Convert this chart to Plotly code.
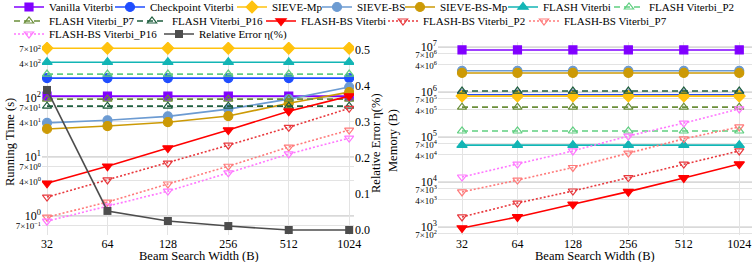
import plotly.graph_objects as go

W, H = 753, 262

beam_widths = ["32", "64", "128", "256", "512", "1024"]

# Running time (s), left panel
time_vanilla = [108, 108, 108, 108, 108, 108]
time_checkpoint = [218, 218, 218, 218, 218, 218]
time_sieve_mp = [700, 700, 700, 700, 700, 700]
time_sieve_bs = [38, 42, 49, 65, 96, 154]
time_sieve_bs_mp = [30, 33.6, 39, 49.6, 82, 126]
time_flash = [405, 405, 405, 405, 405, 405]
time_flash_p2 = [255, 255, 255, 255, 255, 255]
time_flash_p7 = [96, 96, 96, 96, 96, 96]
time_flash_p16 = [73, 73, 73, 73, 73, 73]
time_flashbs = [3.6, 7.0, 14.2, 28.7, 60, 108]
time_flashbs_p2 = [2.1, 4.1, 7.9, 15.9, 32, 67]
time_flashbs_p7 = [0.96, 1.73, 3.5, 7.0, 14.8, 28.7]
time_flashbs_p16 = [0.82, 1.48, 2.65, 5.4, 11.3, 21]
rel_error = [0.389, 0.053, 0.025, 0.011, 0.0, 0.0]

# Memory (B), right panel
mem_vanilla = [8.6e6, 8.6e6, 8.6e6, 8.6e6, 8.6e6, 8.6e6]
mem_checkpoint = [8.7e5, 8.7e5, 8.7e5, 8.7e5, 8.7e5, 8.7e5]
mem_sieve_mp = [8.1e5, 8.1e5, 8.1e5, 8.1e5, 8.1e5, 8.1e5]
mem_sieve_bs = [2.96e6, 2.96e6, 2.96e6, 2.96e6, 2.96e6, 2.96e6]
mem_sieve_bs_mp = [2.65e6, 2.65e6, 2.65e6, 2.65e6, 2.65e6, 2.65e6]
mem_flash = [6.6e4, 6.6e4, 6.6e4, 6.6e4, 6.6e4, 6.6e4]
mem_flash_p2 = [1.36e5, 1.36e5, 1.36e5, 1.36e5, 1.36e5, 1.36e5]
mem_flash_p7 = [4.6e5, 4.6e5, 4.6e5, 4.6e5, 4.6e5, 4.6e5]
mem_flash_p16 = [1.05e6, 1.05e6, 1.05e6, 1.05e6, 1.05e6, 1.05e6]
mem_flashbs = [950, 1670, 3200, 6100, 12300, 25000]
mem_flashbs_p2 = [1670, 3400, 6300, 12500, 25000, 49000]
mem_flashbs_p7 = [6000, 11000, 21000, 44000, 91000, 167000]
mem_flashbs_p16 = [12900, 25000, 49000, 105000, 204000, 420000]

left_ticks = [0.7, 1, 4, 7, 10, 40, 70, 100, 400, 700]
left_ticktext_exp = [-1, 0, 0, 0, 1, 1, 1, 2, 2, 2]
left_ticktext_mant = [7, 1, 4, 7, 1, 4, 7, 1, 4, 7]
right_ticks = [700, 1e3, 4e3, 7e3, 1e4, 4e4, 7e4, 1e5, 4e5, 7e5, 1e6, 4e6, 7e6, 1e7]
right_ticktext_exp = [2, 3, 3, 3, 4, 4, 4, 5, 5, 5, 6, 6, 6, 7]
right_ticktext_mant = [7, 1, 4, 7, 1, 4, 7, 1, 4, 7, 1, 4, 7, 1]
err_ticks = [0.0, 0.1, 0.2, 0.3, 0.4, 0.5]

FONT = "Liberation Serif, Times New Roman, serif"


def tick_label(m, e):
    es = str(e).replace("-", "\u2212")
    if m == 1:
        return "10<sup>%s</sup>" % es
    return "<span style='font-size:9px'>%d\u00d710<sup>%s</sup></span>" % (m, es)


DASH = "6px,4px"
DOT = "2px,2px"

series = [
    ("Vanilla Viterbi", time_vanilla, mem_vanilla, dict(color="#8000ff", dash="solid", symbol="square", size=8)),
    ("Checkpoint Viterbi", time_checkpoint, mem_checkpoint, dict(color="#1f4dff", dash="solid", symbol="circle", size=9)),
    ("SIEVE-Mp", time_sieve_mp, mem_sieve_mp, dict(color="#ffc20e", dash="solid", symbol="diamond", size=9)),
    ("SIEVE-BS", time_sieve_bs, mem_sieve_bs, dict(color="#6c9bd2", dash="solid", symbol="circle", size=9)),
    ("SIEVE-BS-Mp", time_sieve_bs_mp, mem_sieve_bs_mp, dict(color="#cc9a06", dash="solid", symbol="circle", size=9)),
    ("FLASH Viterbi", time_flash, mem_flash, dict(color="#13b5b5", dash="solid", symbol="triangle-up", size=9)),
    ("FLASH Viterbi_P2", time_flash_p2, mem_flash_p2, dict(color="#5fcf80", dash=DASH, symbol="triangle-up-open", size=8)),
    ("FLASH Viterbi_P7", time_flash_p7, mem_flash_p7, dict(color="#6b8e3a", dash=DASH, symbol="triangle-up-open", size=8)),
    ("FLASH Viterbi_P16", time_flash_p16, mem_flash_p16, dict(color="#1e5e3e", dash=DASH, symbol="triangle-up-open", size=8)),
    ("FLASH-BS Viterbi", time_flashbs, mem_flashbs, dict(color="#ff0000", dash="solid", symbol="triangle-down", size=9)),
    ("FLASH-BS Viterbi_P2", time_flashbs_p2, mem_flashbs_p2, dict(color="#e8383d", dash=DOT, symbol="triangle-down-open", size=8)),
    ("FLASH-BS Viterbi_P7", time_flashbs_p7, mem_flashbs_p7, dict(color="#ff7b7b", dash=DOT, symbol="triangle-down-open", size=8)),
    ("FLASH-BS Viterbi_P16", time_flashbs_p16, mem_flashbs_p16, dict(color="#ff77ff", dash=DOT, symbol="triangle-down-open", size=8)),
]

# legend entry text-start x (px) and row centre y (px)
legend_pos = [
    (49, 7), (150, 7), (272, 7), (357, 7), (440, 7), (543, 7), (649, 7),
    (49, 21), (172, 21), (301, 21), (423, 21), (564, 21),
    (49, 34), (199, 34),
]

fig = go.Figure()

for i, (name, tv, mv, st) in enumerate(series):
    lg = "legend" if i == 0 else "legend%d" % (i + 1)
    line = dict(color=st["color"], width=1.6, dash=st["dash"])
    marker = dict(symbol=st["symbol"], size=st["size"], color=st["color"],
                  line=dict(color=st["color"], width=1.2))
    fig.add_trace(go.Scatter(x=beam_widths, y=tv, name=name, mode="lines+markers",
                             line=line, marker=marker, xaxis="x", yaxis="y",
                             legend=lg, showlegend=True))
    fig.add_trace(go.Scatter(x=beam_widths, y=mv, name=name, mode="lines+markers",
                             line=line, marker=marker, xaxis="x3", yaxis="y3",
                             legend=lg, showlegend=False))

fig.add_trace(go.Scatter(x=beam_widths, y=rel_error, name="Relative Error \u03b7(%)",
                         mode="lines+markers", line=dict(color="#4d4d4d", width=1.6),
                         marker=dict(symbol="square", size=8, color="#4d4d4d"),
                         xaxis="x", yaxis="y2", legend="legend14"))

for i, (tx, ty) in enumerate(legend_pos):
    key = "legend" if i == 0 else "legend%d" % (i + 1)
    fig.layout[key] = dict(
        x=(tx - 40) / W, y=1 - ty / H, xanchor="left", yanchor="middle",
        orientation="h", bgcolor="rgba(0,0,0,0)", borderwidth=0,
        font=dict(family=FONT, size=11, color="black"), itemwidth=30,
    )

grid = "#e3e3e3"
tickfont = dict(family=FONT, size=12, color="black")

top_px, bot_px = 42, 235
ydom = [1 - bot_px / H, 1 - top_px / H]

common = dict(automargin=False, zeroline=False, showline=False, ticks="", tickfont=tickfont)

fig.update_layout(
    template="none",
    width=W, height=H, margin=dict(l=0, r=0, t=0, b=0, autoexpand=False),
    paper_bgcolor="white", plot_bgcolor="white",
    font=dict(family=FONT, color="black"),
    xaxis=dict(domain=[42 / W, 354 / W], type="category", range=[-0.083, 5.08],
               showgrid=True, gridcolor=grid, gridwidth=1, anchor="y", **common),
    yaxis=dict(domain=ydom, type="log", range=[-0.32, 2.95], tickvals=left_ticks,
               ticktext=[tick_label(m, e) for m, e in zip(left_ticktext_mant, left_ticktext_exp)],
               showgrid=True, gridcolor=grid, gridwidth=1, anchor="x",
               minor=dict(tickvals=[1, 10, 100], showgrid=True, gridcolor="#d9d9d9", gridwidth=2),
               **common),
    yaxis2=dict(domain=ydom, overlaying="y", side="right", range=[-0.0139, 0.5222],
                tickvals=err_ticks, tickformat=".1f", showgrid=False, anchor="x", **common),
    xaxis3=dict(domain=[438 / W, 752 / W], type="category", range=[-0.433, 5.23],
                showgrid=True, gridcolor=grid, gridwidth=1, anchor="y3", **common),
    yaxis3=dict(domain=ydom, type="log", range=[2.822, 7.111], tickvals=right_ticks,
                ticktext=[tick_label(m, e) for m, e in zip(right_ticktext_mant, right_ticktext_exp)],
                showgrid=True, gridcolor=grid, gridwidth=1, anchor="x3",
                minor=dict(tickvals=[1e3, 1e4, 1e5, 1e6, 1e7], showgrid=True, gridcolor="#d9d9d9", gridwidth=2),
                **common),
)

titles = [
    ("Running Time (s)", 10, 142, -90),
    ("Relative Error \u03b7(%)", 376, 143, -90),
    ("Memory (B)", 393, 141, -90),
    ("Beam Search Width (B)", 199, 255.5, 0),
    ("Beam Search Width (B)", 595, 255.5, 0),
]
for text, px, py, ang in titles:
    fig.add_annotation(text=text, x=px / W, y=1 - py / H, xref="paper", yref="paper",
                       showarrow=False, textangle=ang, xanchor="center", yanchor="middle",
                       font=dict(family=FONT, size=12.5, color="black"))

fig.write_html("out.html", config={"displayModeBar": False},
               post_script="document.body.style.margin='0';document.body.style.overflow='hidden';")
